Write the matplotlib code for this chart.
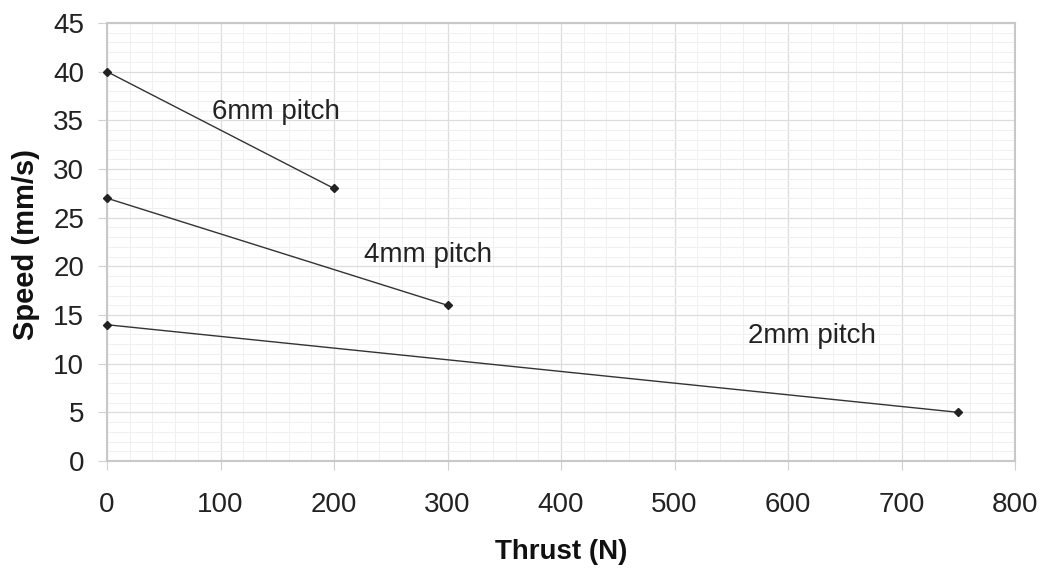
import numpy as np
import matplotlib
matplotlib.use("Agg")
import matplotlib.pyplot as plt
from matplotlib.ticker import MultipleLocator

plt.rcParams['font.family'] = ['Liberation Sans', 'DejaVu Sans']

thrust_6 = [0, 200]
speed_6 = [40, 28]
thrust_4 = [0, 300]
speed_4 = [27, 16]
thrust_2 = [0, 750]
speed_2 = [14, 5]

labels = ["6mm pitch", "4mm pitch", "2mm pitch"]
label_pos = [(149, 35.1), (283, 20.45), (621, 12.1)]

fig = plt.figure(figsize=(10.41, 5.68), dpi=100)
ax = fig.add_axes([107 / 1041, 1 - 461 / 568, 908 / 1041, 438 / 568])

for x, y in [(thrust_6, speed_6), (thrust_4, speed_4), (thrust_2, speed_2)]:
    ax.plot(x, y, color="#333333", lw=1.0, marker="D", ms=4, mfc="#222222",
            mec="#222222", clip_on=False, zorder=3)

for t, (x, y) in zip(labels, label_pos):
    ax.text(x, y, t, fontsize=20, ha="center", va="baseline", color="#222222")

ax.set_xlim(0, 800)
ax.set_ylim(0, 45)
ax.xaxis.set_major_locator(MultipleLocator(100))
ax.xaxis.set_minor_locator(MultipleLocator(20))
ax.yaxis.set_major_locator(MultipleLocator(5))
ax.yaxis.set_minor_locator(MultipleLocator(1))
ax.grid(which="major", color="#dddddd", lw=0.9)
ax.grid(which="minor", color="#f0f0f0", lw=0.7)
ax.set_axisbelow(True)
for s in ax.spines.values():
    s.set_color("#c8c8c8")
    s.set_linewidth(1.5)
ax.tick_params(which="major", length=6.5, color="#d0d0d0", labelsize=20,
               labelcolor="#222222")
ax.tick_params(axis="x", which="major", pad=16)
ax.tick_params(axis="y", which="major", pad=10)
ax.tick_params(which="minor", length=0)

ax.set_xlabel("Thrust (N)", fontsize=20, fontweight="bold", color="#111111")
ax.set_ylabel("Speed (mm/s)", fontsize=21, fontweight="bold", color="#111111")
ax.xaxis.set_label_coords(0.5, -0.178)
ax.yaxis.set_label_coords(-0.074, 0.494)

fig.savefig("out.png", dpi=100)
